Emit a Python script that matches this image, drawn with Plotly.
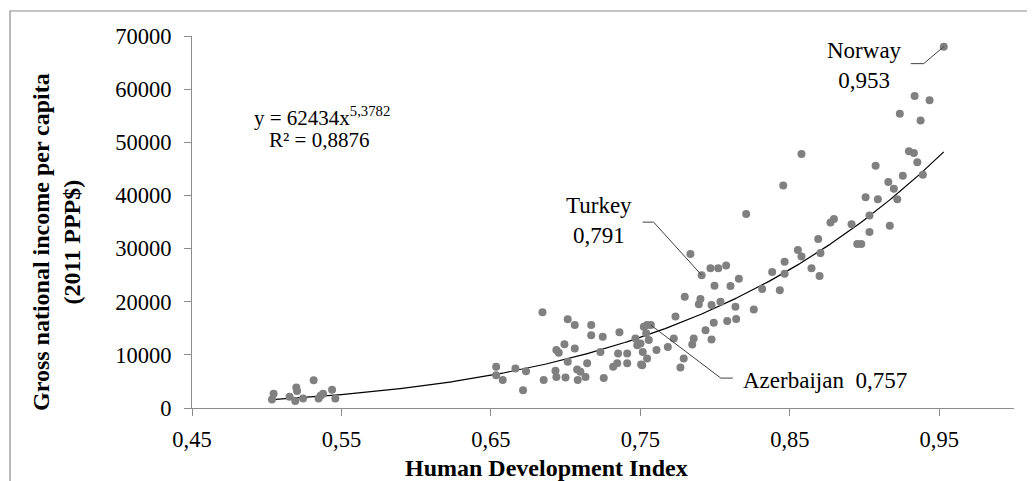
import numpy as np
import plotly.graph_objects as go

# ---------------- data ----------------
hdi = [
    0.5035, 0.5046, 0.5153, 0.5191, 0.5198, 0.5203, 0.5243, 0.5314, 0.5347, 0.5360,
    0.5377, 0.5437, 0.5459,
    0.6535, 0.6535, 0.6579, 0.6664, 0.6715, 0.6735, 0.6845, 0.6853, 0.6932, 0.6938,
    0.6954, 0.6992, 0.6938, 0.6999, 0.7014, 0.7014, 0.7061, 0.7061, 0.7077, 0.7081,
    0.7099, 0.7133, 0.7144, 0.7171, 0.7171, 0.7233, 0.7248, 0.7255, 0.7318, 0.7345,
    0.7351, 0.7360, 0.7412, 0.7412, 0.7467, 0.7479, 0.7501, 0.7505, 0.7516, 0.7523,
    0.7545, 0.7539, 0.7545, 0.7556, 0.7512, 0.7608, 0.7684, 0.7724, 0.7735, 0.7768,
    0.7790, 0.7847, 0.7857, 0.7797, 0.7835, 0.7891, 0.7902, 0.7910, 0.7936, 0.7969,
    0.7976, 0.7976, 0.7991, 0.7996, 0.8021, 0.8036, 0.8074, 0.8081, 0.8103, 0.8136,
    0.8141, 0.8159, 0.8208, 0.8259, 0.8315, 0.8382, 0.8433, 0.8456, 0.8465, 0.8465,
    0.8554, 0.8578, 0.8578, 0.8645, 0.8690, 0.8699, 0.8705, 0.8772, 0.8795, 0.8913,
    0.8951, 0.8978, 0.9007, 0.9033, 0.9033, 0.9074, 0.9089, 0.9159, 0.9169, 0.9196,
    0.9219, 0.9236, 0.9256, 0.9297, 0.9330, 0.9335, 0.9353, 0.9375, 0.9390, 0.9435,
    0.9530, 0.7570,
]
gni = [
    1600, 2700, 2100, 1300, 3850, 3200, 1800, 5200, 1800, 2300,
    2700, 3450, 1800,
    7750, 6150, 5250, 7450, 3350, 6900, 18000, 5250, 7000, 10900,
    10400, 12000, 5850, 5750, 16700, 8700, 15600, 11200, 7250, 5250,
    6800, 5850, 8400, 15600, 13700, 10550, 13400, 5650, 7750, 8400,
    10250, 14250, 10250, 8400, 13100, 11800, 12150, 8200, 10550, 15300,
    15600, 14050, 9300, 12800, 8050, 10900, 11500, 13100, 17200, 7600,
    9300, 11950, 13100, 20950, 29000, 19500, 20500, 25000, 14650, 26300,
    19400, 12900, 16050, 23000, 26300, 20000, 26800, 16350, 22950, 19050,
    16750, 24300, 36500, 18550, 22400, 25600, 22150, 41850, 27500, 25250,
    29750, 47800, 28500, 26300, 31800, 24850, 29150, 34900, 35550, 34600,
    30850, 30850, 39650, 36200, 33100, 45600, 39300, 42550, 34300, 41250,
    39300, 55350, 43700, 48300, 48000, 58700, 46250, 54100, 43900, 57900,
    68000, 15600,
]

# trendline (power fit shown on the chart)
trend_coef = 62434
trend_exp = 5.3782
trend_label = "y = 62434x<sup>5,3782</sup>"
r2_label = "R² = 0,8876"

# labelled countries
labelled_names = ["Turkey", "Norway", "Azerbaijan"]
labelled_hdi = [0.791, 0.953, 0.757]
labelled_gni = [25000, 68000, 15600]
labelled_text = ["Turkey<br>0,791", "Norway<br>0,953", "Azerbaijan  0,757"]

x_ticks = [0.45, 0.55, 0.65, 0.75, 0.85, 0.95]
x_tick_labels = ["0,45", "0,55", "0,65", "0,75", "0,85", "0,95"]
y_ticks = [0, 10000, 20000, 30000, 40000, 50000, 60000, 70000]
y_tick_labels = ["0", "10000", "20000", "30000", "40000", "50000", "60000", "70000"]

x_title = "Human Development Index"
y_title = "Gross national income per capita<br>(2011 PPP$)"

# ---------------- layout constants (page pixels) ----------------
PAGE_W, PAGE_H = 1035, 481
OFF = 8                      # browser body margin
W, H = PAGE_W - OFF, PAGE_H - OFF
PLOT_L, PLOT_R, PLOT_T, PLOT_B = 192, 1014, 36, 408
ML, MT = PLOT_L - OFF, PLOT_T - OFF
MR, MB = PAGE_W - PLOT_R, PAGE_H - PLOT_B
FONT = "Liberation Serif"
AXIS_COL = "#8c8c8c"


def px_to_paper_x(px):
    return (px - PLOT_L) / (PLOT_R - PLOT_L)


def px_to_paper_y(py):
    return (PLOT_B - py) / (PLOT_B - PLOT_T)


fig = go.Figure()

xs = np.linspace(min(hdi), max(hdi), 300)
fig.add_trace(go.Scatter(
    x=xs, y=trend_coef * xs ** trend_exp, mode="lines",
    line=dict(color="black", width=1.2), hoverinfo="skip", showlegend=False,
))
fig.add_trace(go.Scatter(
    x=hdi, y=gni, mode="markers",
    marker=dict(color="#808080", size=8, line=dict(width=0)),
    showlegend=False,
))

# leader lines (pixel offsets from labelled point) and labels
leader_paths = [
    "M 0 0 L -48 53 L -59 53",
    "M 0 0 L -20 -17 L -33 -17",
    "M 0 0 L 70 -53 L 82 -53",
]
label_shift = [(-103, 55, "center"), (-79, -19, "center"), (90, -55, "left")]
for i in range(len(labelled_names)):
    fig.add_shape(
        type="path", xref="x", yref="y",
        xsizemode="pixel", ysizemode="pixel",
        xanchor=labelled_hdi[i], yanchor=labelled_gni[i],
        path=leader_paths[i],
        line=dict(color="#404040", width=1),
    )
    dx, dy, anchor = label_shift[i]
    fig.add_annotation(
        x=labelled_hdi[i], y=labelled_gni[i], xref="x", yref="y",
        text=labelled_text[i], showarrow=False,
        xshift=dx, yshift=dy, xanchor=anchor, yanchor="middle",
        align="center", font=dict(family=FONT, size=23, color="black"),
    )

# trendline equation (two lines)
fig.add_annotation(
    x=px_to_paper_x(252), y=px_to_paper_y(116), xref="paper", yref="paper",
    text=trend_label, showarrow=False, xanchor="left", yanchor="middle",
    font=dict(family=FONT, size=21, color="black"),
)
fig.add_annotation(
    x=px_to_paper_x(267), y=px_to_paper_y(140), xref="paper", yref="paper",
    text=r2_label, showarrow=False, xanchor="left", yanchor="middle",
    font=dict(family=FONT, size=21, color="black"),
)

# axis titles
fig.add_annotation(
    x=px_to_paper_x(546), y=px_to_paper_y(468), xref="paper", yref="paper",
    text="<b>" + x_title + "</b>", showarrow=False,
    xanchor="center", yanchor="middle",
    font=dict(family=FONT, size=24, color="black"),
)
fig.add_annotation(
    x=px_to_paper_x(57), y=px_to_paper_y(242), xref="paper", yref="paper",
    text="<b>" + y_title + "</b>", showarrow=False, textangle=-90,
    xanchor="center", yanchor="middle", align="center",
    font=dict(family=FONT, size=24, color="black"),
)

# outer chart border
fig.add_shape(
    type="rect", xref="paper", yref="paper",
    x0=px_to_paper_x(10), x1=px_to_paper_x(PAGE_W + 10),
    y0=px_to_paper_y(PAGE_H + 10), y1=px_to_paper_y(11),
    line=dict(color="#8c8c8c", width=1.2), fillcolor="rgba(0,0,0,0)", layer="below",
)

fig.update_layout(
    width=W, height=H,
    margin=dict(l=ML, r=MR, t=MT, b=MB),
    paper_bgcolor="white", plot_bgcolor="white",
    font=dict(family=FONT, size=22, color="black"),
    showlegend=False,
    xaxis=dict(
        range=[0.45, 1.0], tickvals=x_ticks, ticktext=x_tick_labels,
        showgrid=False, zeroline=False, showline=True, linecolor=AXIS_COL, linewidth=1.2,
        ticks="outside", ticklen=7, tickcolor=AXIS_COL, tickwidth=1.2,
        tickfont=dict(family=FONT, size=22.5, color="black"), ticklabelstandoff=4,
    ),
    yaxis=dict(
        range=[0, 70000], tickvals=y_ticks, ticktext=y_tick_labels,
        showgrid=False, zeroline=False, showline=True, linecolor=AXIS_COL, linewidth=1.2,
        ticks="outside", ticklen=7, tickcolor=AXIS_COL, tickwidth=1.2,
        tickfont=dict(family=FONT, size=22.5, color="black"), ticklabelstandoff=8,
    ),
)

fig.write_html("out.html")
